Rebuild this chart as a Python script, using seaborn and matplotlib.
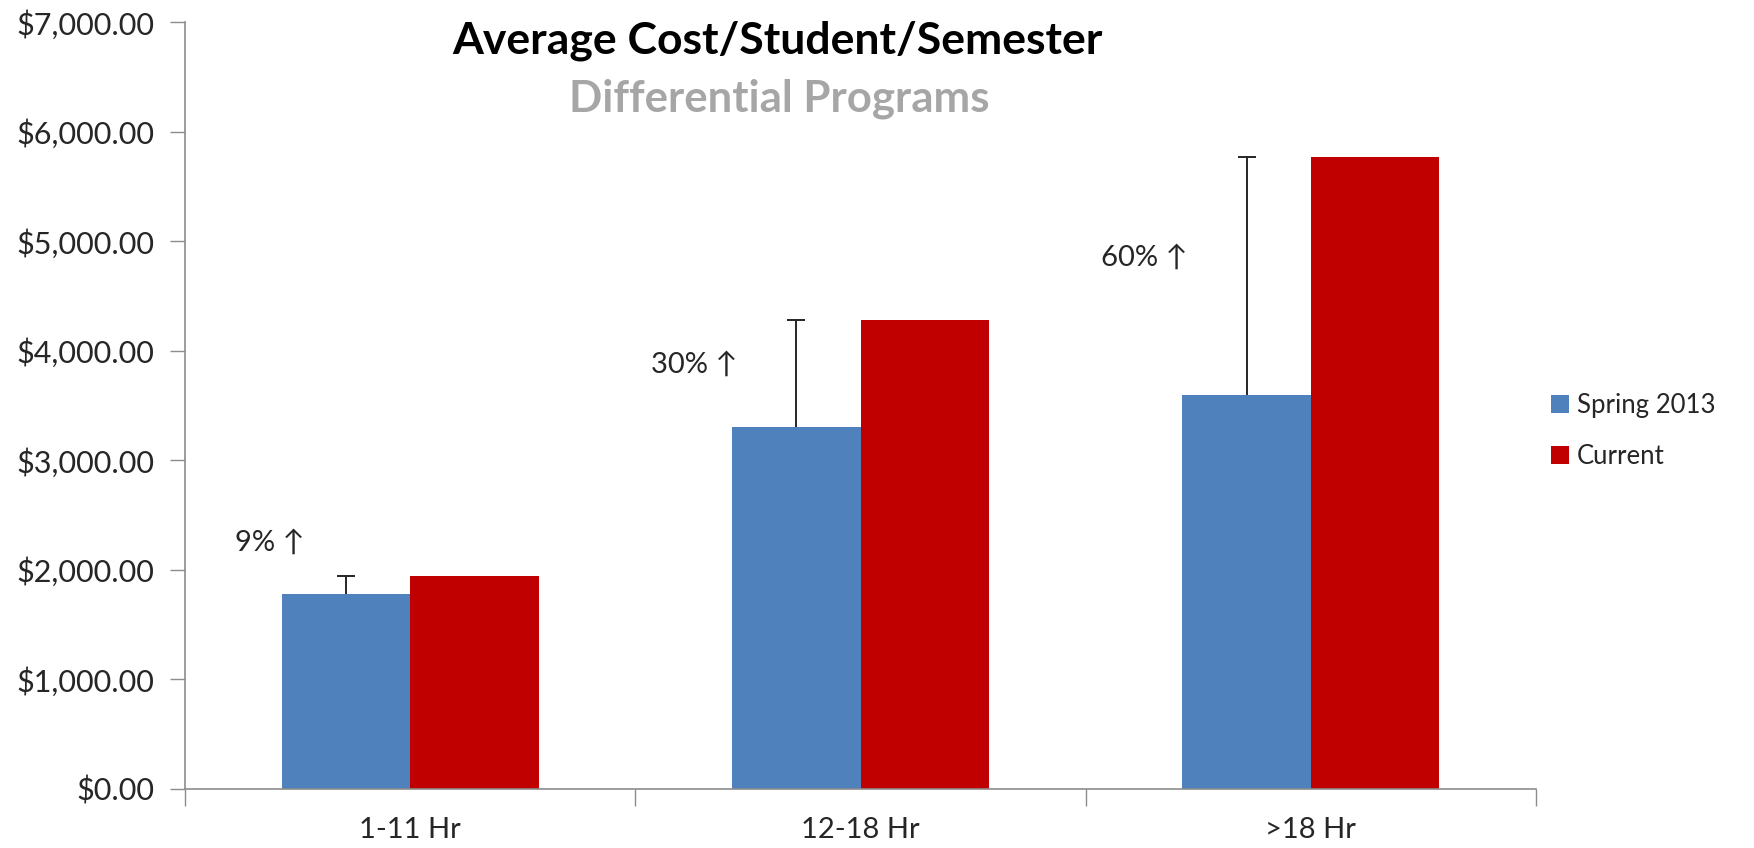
import matplotlib
matplotlib.use("Agg")
import matplotlib.pyplot as plt
from matplotlib.patches import Patch
from matplotlib.ticker import FuncFormatter, FixedLocator
import seaborn as sns
import pandas as pd

# Cost per student per semester, by credit-hour band
categories = ["1-11 Hr", "12-18 Hr", ">18 Hr"]
series_names = ["Spring 2013", "Current"]
spring_2013 = [1780, 3300, 3600]
current = [1940, 4280, 5770]
increase_labels = ["9% \u2191", "30% \u2191", "60% \u2191"]
increase_label_y = [2250, 3870, 4850]
colors = ["#4f81bd", "#c00000"]

sns.set_theme(style="white")
plt.rcParams["font.family"] = ["Lato", "DejaVu Sans"]

df = pd.DataFrame({
    "band": categories * 2,
    "period": [series_names[0]] * 3 + [series_names[1]] * 3,
    "cost": spring_2013 + current,
})

fig = plt.figure(figsize=(17.54, 8.48), dpi=100)
ax = fig.add_axes([0.1055, 0.0696, 0.7702, 0.9044])

sns.barplot(data=df, x="band", y="cost", hue="period", order=categories,
            hue_order=series_names, palette=colors, width=0.57,
            saturation=1, errorbar=None, legend=False, linewidth=0, ax=ax)

# Upper whisker from each Spring 2013 bar up to the current cost
blue_bars = sorted(ax.patches[:3], key=lambda p: p.get_x())
for bar, lo, hi in zip(blue_bars, spring_2013, current):
    xc = bar.get_x() + bar.get_width() / 2
    ax.vlines(xc, lo, hi, color="#262626", linewidth=1.4)
    ax.plot([xc], [hi], marker="_", markersize=13, markeredgewidth=1.4,
            color="#262626")

for i, (txt, y) in enumerate(zip(increase_labels, increase_label_y)):
    ax.text(i - 0.465 if i else i - 0.39, y, txt, fontsize=21,
            color="#262626", ha="left", va="center",
            family=["Lato", "DejaVu Sans"])

ax.set_xlim(-0.5, 2.5)
ax.set_ylim(0, 7000)
ax.yaxis.set_major_locator(FixedLocator(range(0, 7001, 1000)))
ax.yaxis.set_major_formatter(FuncFormatter(lambda v, _: f"${v:,.2f}"))
ax.set_xlabel("")
ax.set_ylabel("")

for lab in ax.get_yticklabels():
    lab.set_fontsize(22)
    lab.set_color("#262626")
for lab in ax.get_xticklabels():
    lab.set_fontsize(21)
    lab.set_color("#262626")

ax.xaxis.set_minor_locator(FixedLocator([-0.5, 0.5, 1.5, 2.5]))
ax.tick_params(axis="x", which="major", length=0, pad=20)
ax.tick_params(axis="x", which="minor", length=12, width=1, color="#8c8c8c",
               direction="out", bottom=True)
ax.tick_params(axis="y", which="major", length=11, width=1, color="#8c8c8c",
               direction="out", left=True, pad=11)

for side in ["top", "right"]:
    ax.spines[side].set_visible(False)
for side in ["left", "bottom"]:
    ax.spines[side].set_color("#8c8c8c")
    ax.spines[side].set_linewidth(1.2)

fig.text(0.443, 0.952, "Average Cost/Student/Semester", fontsize=32,
         fontweight="bold", color="black", ha="center", va="center")
fig.text(0.444, 0.884, "Differential Programs", fontsize=31.5,
         fontweight="bold", color="#a6a6a6", ha="center", va="center")

handles = [Patch(facecolor=c, edgecolor="none") for c in colors]
fig.legend(handles, series_names, loc="center left",
           bbox_to_anchor=(0.871, 0.492), frameon=False, fontsize=18.5,
           handlelength=0.7, handleheight=0.7, handletextpad=0.3,
           labelspacing=1.0)

fig.savefig("out.png", dpi=100, facecolor="white")
